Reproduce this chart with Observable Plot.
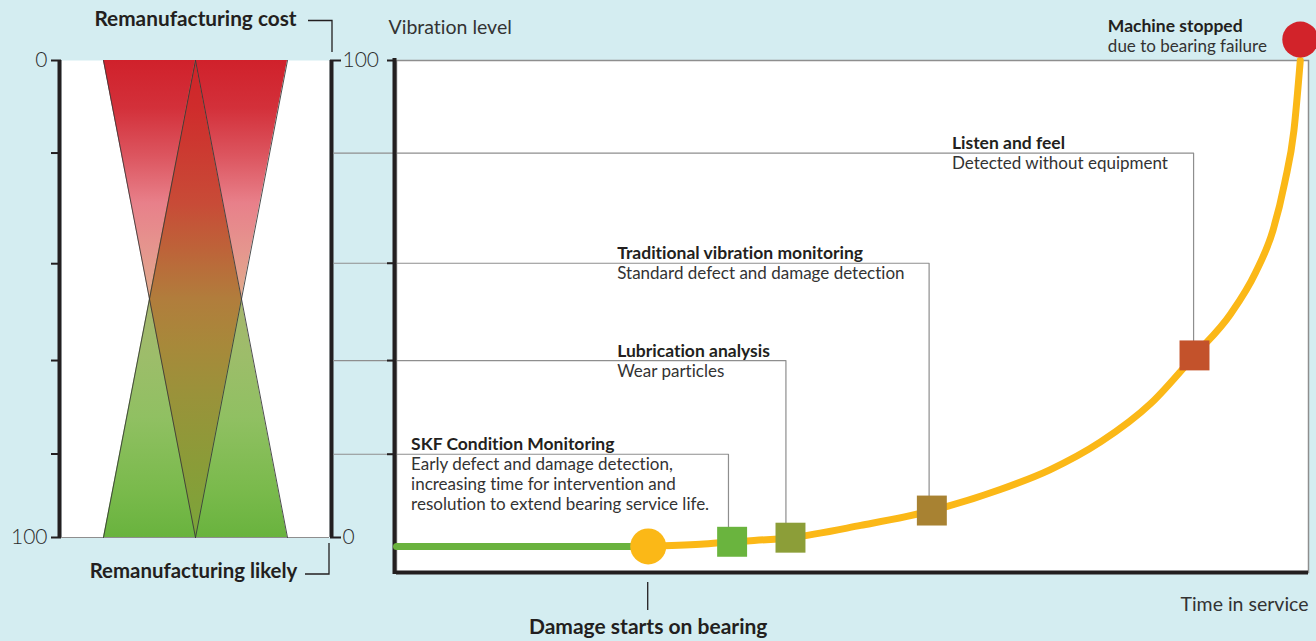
<!DOCTYPE html>
<html><head><meta charset="utf-8">
<script src="https://cdn.jsdelivr.net/npm/d3@7"></script>
<script src="https://cdn.jsdelivr.net/npm/@observablehq/plot@0.6"></script>
<style>
html,body{margin:0;padding:0;background:#d4edf1;}
#chart{position:relative;width:1316px;height:641px;overflow:hidden;background:#d4edf1;font-family:Lato,"Open Sans",sans-serif;}
#chart svg{position:absolute;left:0;top:0;}
#chart text{font-variant-ligatures:none;font-feature-settings:"liga" 0;}
</style></head><body><div id="chart"></div>
<script>
// ---------- data ----------
const methodNames = ["SKF Condition Monitoring", "Lubrication analysis", "Traditional vibration monitoring", "Listen and feel"];
const methodDescriptions = [
  "Early defect and damage detection,\nincreasing time for intervention and\nresolution to extend bearing service life.",
  "Wear particles",
  "Standard defect and damage detection",
  "Detected without equipment"
];
const detectionVibration = [23.1, 41.4, 60.4, 81.9];        // level on vibration scale
const detectionRemanufacturing = [82.5, 62.9, 42.6, 19.4];  // same level on remanufacturing-cost scale
const labelTime = [1.6, 24.2, 24.2, 60.9];
const leaderTime = [36.4, 42.7, 58.4, 87.4];
const markerTime = [36.8, 43.2, 58.7, 87.5];
const markerVibration = [6.0, 6.8, 12.1, 42.4];
const markerColors = ["#6ab43e", "#8c9e38", "#a88232", "#c3522b"];

const baselineTime = [0, 27.6];
const baselineVibration = [5.1, 5.1];
const curveTime = [27.6, 33.3, 36.8, 43.2, 50.9, 58.7, 66.2, 71.7, 77.2, 82.7, 87.5, 91.5, 94.2, 96.1, 97.4, 98.4, 99.1];
const curveVibration = [5.1, 5.5, 6.0, 6.8, 9.2, 12.1, 16.2, 20.1, 25.5, 33.0, 42.4, 50.6, 58.6, 66.8, 76.2, 86.3, 100];
const damageStart = {time: 27.6, vibration: 5.1, label: "Damage starts on bearing"};
const failure = {time: 99.1, vibration: 104.1, title: "Machine stopped", subtitle: "due to bearing failure", labelTime: 78.0};

// left panel: remanufacturing cost (0 top .. 100 bottom) vs likelihood
const costTriangle = [{level: 0, x1: -1, x2: 1}, {level: 100, x1: 0, x2: 0}];
const likelyTriangle = [{level: 0, x1: 0, x2: 0}, {level: 100, x1: -1, x2: 1}];
const overlapDiamond = [{level: 0, x1: 0, x2: 0}, {level: 50, x1: -0.5, x2: 0.5}, {level: 100, x1: 0, x2: 0}];
const costTicks = [0, ...detectionRemanufacturing, 100];
const vibrationTicks = [100, 60.4, 41.4, 23.1];

const INK = "#231f20", GREY = "#8e8e8e", TEXT2 = "#333333";
const costStops = [[0, "#d0212b"], [0.1, "#d3303a"], [0.2, "#dc555f"], [0.3, "#e8808a"], [0.4, "#e5968e"], [0.47, "#e2a58c"], [0.55, "#e0b08c"], [1, "#e0c090"]];
const likelyStops = [[0, "#c0b070"], [0.5, "#a6b66d"], [0.62, "#9dbd6a"], [0.75, "#90c062"], [0.9, "#7aba4c"], [1, "#69b33e"]];
const overlapStops = [[0, "#cf2429"], [0.1, "#cf2c2c"], [0.3, "#c84b37"], [0.4, "#bd6439"], [0.5, "#b17d3c"], [0.6, "#a7893a"], [0.7, "#9a923a"], [0.85, "#8a9c38"], [1, "#7aa53a"]];

// ---------- helpers ----------
function defs() {
  const d = d3.create("svg:defs");
  for (const [id, stops] of [["gCost", costStops], ["gLikely", likelyStops], ["gOverlap", overlapStops]]) {
    const g = d.append("linearGradient").attr("id", id).attr("x1", 0).attr("y1", 0).attr("x2", 0).attr("y2", 1);
    for (const [o, c] of stops) g.append("stop").attr("offset", o).attr("stop-color", c);
  }
  return d.node();
}
const XMAX = 1.4565;

const edges = [
  ...costTriangle.map((d, i) => ({edge: "c1", x: [-1, 0][i], level: d.level})),
  ...costTriangle.map((d, i) => ({edge: "c2", x: [1, 0][i], level: d.level})),
  ...likelyTriangle.map((d, i) => ({edge: "l1", x: [0, -1][i], level: d.level})),
  ...likelyTriangle.map((d, i) => ({edge: "l2", x: [0, 1][i], level: d.level}))
];

function brackets(index, scales) {
  const X = scales.x(XMAX), Y0 = scales.y(0), Y1 = scales.y(100);
  const g = d3.create("svg:g").attr("fill", "none").attr("stroke", INK).attr("stroke-width", 1.3);
  g.append("path").attr("d", `M${X - 21},${Y0 - 39.5}H${X + 3}V${Y0 - 8}`);
  g.append("path").attr("d", `M${X - 24},${Y1 + 37}H${X}V${Y1 + 6}`);
  return g.node();
}

const FONT = "Lato, 'Open Sans', sans-serif";

const left = Plot.plot({
  width: 400, height: 641,
  marginLeft: 61, marginRight: 71, marginTop: 60, marginBottom: 104,
  x: {domain: [-XMAX, XMAX], axis: null},
  y: {domain: [0, 100], reverse: true, axis: null},
  style: {background: "transparent", overflow: "visible", fontFamily: FONT, color: INK},
  marks: [
    defs,
    Plot.frame({fill: "white", stroke: "none"}),
    Plot.areaX(costTriangle, {y: "level", x1: "x1", x2: "x2", fill: "url(#gCost)"}),
    Plot.areaX(likelyTriangle, {y: "level", x1: "x1", x2: "x2", fill: "url(#gLikely)"}),
    Plot.areaX(overlapDiamond, {y: "level", x1: "x1", x2: "x2", fill: "url(#gOverlap)"}),
    Plot.ruleY([100], {stroke: GREY, strokeWidth: 1.2}),
    Plot.line(edges, {x: "x", y: "level", z: "edge", stroke: "#3a3a3a", strokeWidth: 0.9}),
    Plot.axisY(costTicks, {anchor: "left", tickSize: 10, tickPadding: 4, strokeWidth: 2, stroke: INK,
      tickFormat: d => (d === 0 || d === 100) ? String(d) : "", fontSize: 21, fontWeight: 300, fill: "#2b2b2b", label: null}),
    Plot.axisY([0, 100], {anchor: "right", tickSize: 11, tickPadding: 2, strokeWidth: 2, stroke: INK,
      tickFormat: d => String(100 - d), fontSize: 21, fontWeight: 300, fill: "#2b2b2b", label: null}),
    Plot.ruleX([-XMAX], {dx: -2, strokeWidth: 4, stroke: INK}),
    Plot.ruleX([XMAX], {dx: 2, strokeWidth: 4, stroke: INK}),
    Plot.text(["Remanufacturing cost"], {x: 0, y: 0, dy: -35, lineAnchor: "bottom", fontWeight: 700, fontSize: 20.8, fill: INK}),
    Plot.text(["Remanufacturing likely"], {x: 0, y: 100, dy: 40, dx: -2, lineAnchor: "bottom", fontWeight: 700, fontSize: 20.4, fill: INK}),
    brackets
  ]
});

// ---------- right panel ----------
const methods = methodNames.map((name, i) => ({
  name, desc: methodDescriptions[i], level: detectionVibration[i], labelTime: labelTime[i],
  leaderTime: leaderTime[i], markerTime: markerTime[i], markerVibration: markerVibration[i], color: markerColors[i]
}));
const leaderStart = -6.9; // leaders start at the left panel's right axis
const leaders = methods.flatMap(m => [
  {name: m.name, t: leaderStart, v: m.level},
  {name: m.name, t: m.leaderTime, v: m.level},
  {name: m.name, t: m.leaderTime, v: m.markerVibration}
]);
const baseline = baselineTime.map((t, i) => ({t, v: baselineVibration[i]}));
const curve = curveTime.map((t, i) => ({t, v: curveVibration[i]}));

function damageTick(index, scales) {
  const X = scales.x(damageStart.time), Y = scales.y(0);
  return d3.create("svg:line").attr("x1", X).attr("x2", X).attr("y1", Y + 10).attr("y2", Y + 38)
    .attr("stroke", INK).attr("stroke-width", 1.3).node();
}

const right = Plot.plot({
  width: 1316, height: 641,
  marginLeft: 396, marginRight: 8, marginTop: 60, marginBottom: 69,
  x: {domain: [0, 100], axis: null},
  y: {domain: [0, 100], axis: null},
  style: {background: "transparent", overflow: "visible", fontFamily: FONT, color: INK},
  marks: [
    Plot.frame({fill: "white", stroke: GREY, strokeWidth: 1.5}),
    Plot.line(leaders, {x: "t", y: "v", z: "name", stroke: GREY, strokeWidth: 1.2}),
    Plot.axisY(vibrationTicks, {anchor: "left", tickSize: 9, strokeWidth: 2, stroke: INK, tickFormat: () => "", label: null}),
    Plot.ruleX([0], {dx: -2, strokeWidth: 4, stroke: INK, strokeLinecap: "square"}),
    Plot.ruleY([0], {strokeWidth: 4, stroke: INK}),
    Plot.line(baseline, {x: "t", y: "v", stroke: "#6ab23e", strokeWidth: 7}),
    Plot.line(curve, {x: "t", y: "v", stroke: "#fbb817", strokeWidth: 7, curve: "monotone-x"}),
    Plot.dot([damageStart], {x: "time", y: "vibration", r: 18, fill: "#fbb817"}),
    Plot.dot(methods, {x: "markerTime", y: "markerVibration", symbol: "square", r: 16.9, fill: "color"}),
    Plot.dot([failure], {x: "time", y: "vibration", r: 18, fill: "#d2232a"}),
    Plot.text(methods, {x: "labelTime", y: "level", text: "name", textAnchor: "start", lineAnchor: "bottom", dy: -4, fontWeight: 700, fontSize: 17.5, fill: INK}),
    Plot.text(methods, {x: "labelTime", y: "level", text: "desc", textAnchor: "start", lineAnchor: "top", dy: 2, lineHeight: 1.176, fontSize: 17, fill: TEXT2}),
    Plot.text([failure], {x: "labelTime", y: 100, text: "title", textAnchor: "start", lineAnchor: "bottom", dy: -29, fontWeight: 700, fontSize: 17.5, fill: INK}),
    Plot.text([failure], {x: "labelTime", y: 100, text: "subtitle", textAnchor: "start", lineAnchor: "bottom", dy: -9, fontSize: 17, fill: TEXT2}),
    Plot.text(["Vibration level"], {x: 0, y: 100, dx: -8, dy: -27, textAnchor: "start", lineAnchor: "bottom", fontSize: 19.5, fill: TEXT2}),
    Plot.text(["Time in service"], {x: 100, y: 0, dy: 38, textAnchor: "end", lineAnchor: "bottom", fontSize: 19.5, fill: TEXT2}),
    damageTick,
    Plot.text([damageStart], {x: "time", y: 0, text: "label", dy: 61, lineAnchor: "bottom", fontWeight: 700, fontSize: 21, fill: INK})
  ]
});

const chart = document.getElementById("chart");
chart.append(left, right);
</script>
</body></html>
